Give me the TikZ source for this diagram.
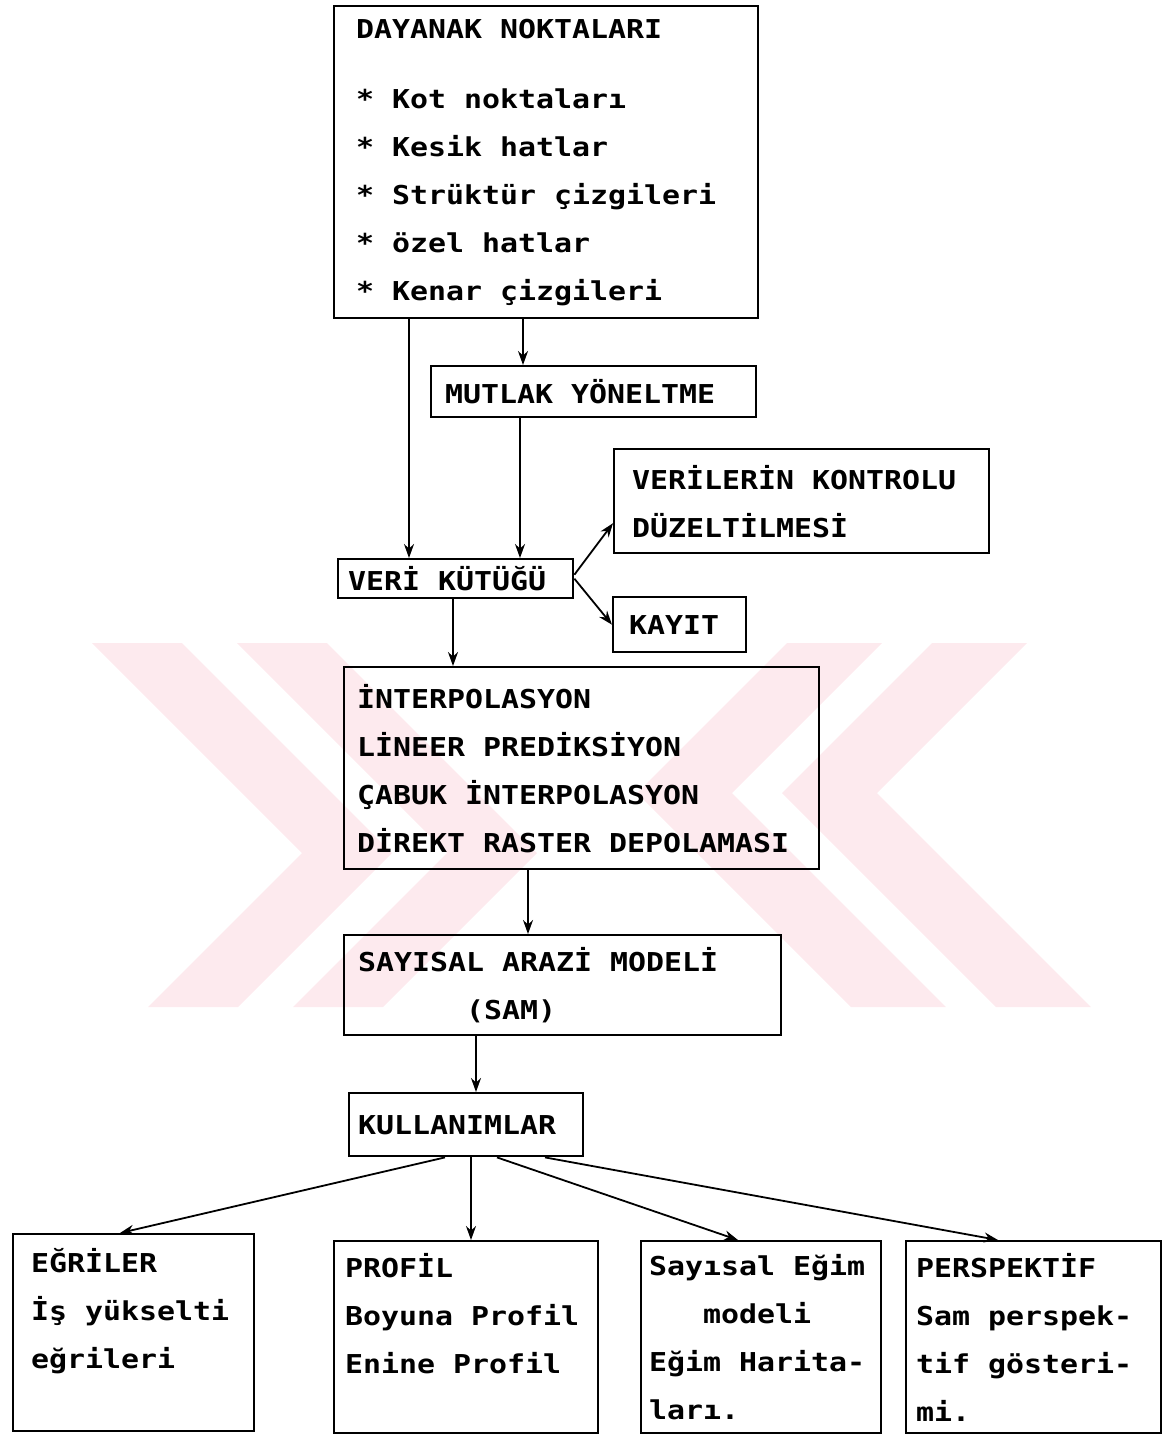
\documentclass[tikz,border=0pt]{standalone}
\usepackage{fontspec}
\newfontfamily\dotfont[FakeStretch=1.15]{DejaVu Sans Mono}
\newcommand{\boxfont}{\dotfont\bfseries\fontsize{13}{24}\selectfont}
\newcommand{\wsp}{\hspace{9pt}}
\usepackage{tikz}
\usetikzlibrary{shapes,arrows.meta}
\definecolor{wmpink}{RGB}{253,234,238}
\tikzstyle{box} = [rectangle, draw=black, line width=1.2pt, anchor=north west, align=left, inner ysep=0pt, font=\boxfont]
\tikzstyle{arrow} = [line width=0.9pt,-{Stealth[length=7pt,width=5pt]}]

\begin{document}
\begin{tikzpicture}[x=0.5pt, y=-0.5pt]
        \useasboundingbox (0,0) rectangle (1162,1435);
        % watermark in the background
        \fill [wmpink] (92,643) -- (182,643) -- (392,853) -- (238,1007) -- (148,1007) -- (302,853) -- cycle;
        \fill [wmpink] (237,643) -- (327,643) -- (537,853) -- (383,1007) -- (293,1007) -- (447,853) -- cycle;
        \fill [wmpink] (932,643) -- (1027,643) -- (877,793) -- (1091,1007) -- (996,1007) -- (782,793) -- cycle;
        \fill [wmpink] (787,643) -- (882,643) -- (732,793) -- (946,1007) -- (851,1007) -- (637,793) -- cycle;
        \node (dayanak) [box, inner xsep=11pt, text width=190pt, minimum height=156pt] at (333,5) {DAYANAK\wsp NOKTALARI\\[11pt]
          {*}\wsp Kot\wsp noktaları\\ {*}\wsp Kesik\wsp hatlar\\ {*}\wsp Strüktür\wsp çizgileri\\ {*}\wsp özel\wsp hatlar\\ {*}\wsp Kenar\wsp çizgileri};
        \node (mutlak) [box, inner xsep=7pt, text width=148.5pt, minimum height=25.5pt] at (430,365) {MUTLAK\wsp YÖNELTME};
        \node (kontrol) [box, inner xsep=9pt, text width=169.5pt, minimum height=52pt] at (613,448) {VERİLERİN\wsp KONTROLU\\ DÜZELTİLMESİ};
        \node (kutuk) [box, inner xsep=5pt, text width=107.5pt, minimum height=19.5pt] at (337,558) {VERİ\wsp KÜTÜĞÜ};
        \node (kayit) [box, inner xsep=8pt, text width=50.5pt, minimum height=27.5pt] at (612,596) {KAYIT};
        \node (interp) [box, inner xsep=6.5pt, text width=224.5pt, minimum height=101pt] at (343,666) {İNTERPOLASYON\\ LİNEER\wsp PREDİKSİYON\\ ÇABUK\wsp İNTERPOLASYON\\ DİREKT\wsp RASTER\wsp DEPOLAMASI};
        \node (sam) [box, inner xsep=7pt, text width=204.5pt, minimum height=50pt] at (343,934) {SAYISAL\wsp ARAZİ\wsp MODELİ\\ \hspace*{54pt}(SAM)};
        \node (kullan) [box, inner xsep=4.5pt, text width=108pt, minimum height=31.5pt] at (348,1092) {KULLANIMLAR};
        \node (egri) [box, inner xsep=9pt, text width=102.5pt, minimum height=98.5pt] at (12,1233) {EĞRİLER\\ İş\wsp yükselti\\ eğrileri\\ \mbox{}};
        \node (profil) [box, inner xsep=5.5pt, text width=121pt, minimum height=96pt] at (333,1240) {PROFİL\\ Boyuna\wsp Profil\\ Enine\wsp Profil\\ \mbox{}};
        \node (egim) [box, inner xsep=4pt, text width=112pt, minimum height=96pt] at (640,1240) {Sayısal\wsp Eğim\\ \hspace*{27pt}modeli\\ Eğim\wsp Harita-\\ ları.};
        \node (persp) [box, inner xsep=5pt, text width=117.5pt, minimum height=96pt] at (905,1240) {PERSPEKTİF\\ Sam\wsp perspek-\\ tif\wsp gösteri-\\ mi.};
        \draw [arrow] (dayanak.south -| 409,0) -- (kutuk.north -| 409,0);
        \draw [arrow] (dayanak.south -| 523,0) -- (mutlak.north -| 523,0);
        \draw [arrow] (mutlak.south -| 520,0) -- (kutuk.north -| 520,0);
        \draw [arrow] ([yshift=2pt]kutuk.east) -- ([yshift=-11pt]kontrol.west);
        \draw [arrow] (kutuk.east) -- (kayit.west);
        \draw [arrow] (kutuk.south -| 453,0) -- (interp.north -| 453,0);
        \draw [arrow] (interp.south -| 528,0) -- (sam.north -| 528,0);
        \draw [arrow] (sam.south -| 476,0) -- (kullan.north -| 476,0);
        \draw [arrow] (kullan.south -| 445,0) -- (egri.north -| 120,0);
        \draw [arrow] (kullan.south -| 471,0) -- (profil.north -| 471,0);
        \draw [arrow] (kullan.south -| 497,0) -- (egim.north -| 738,0);
        \draw [arrow] (kullan.south -| 545,0) -- (persp.north -| 998,0);
\end{tikzpicture}
\end{document}
